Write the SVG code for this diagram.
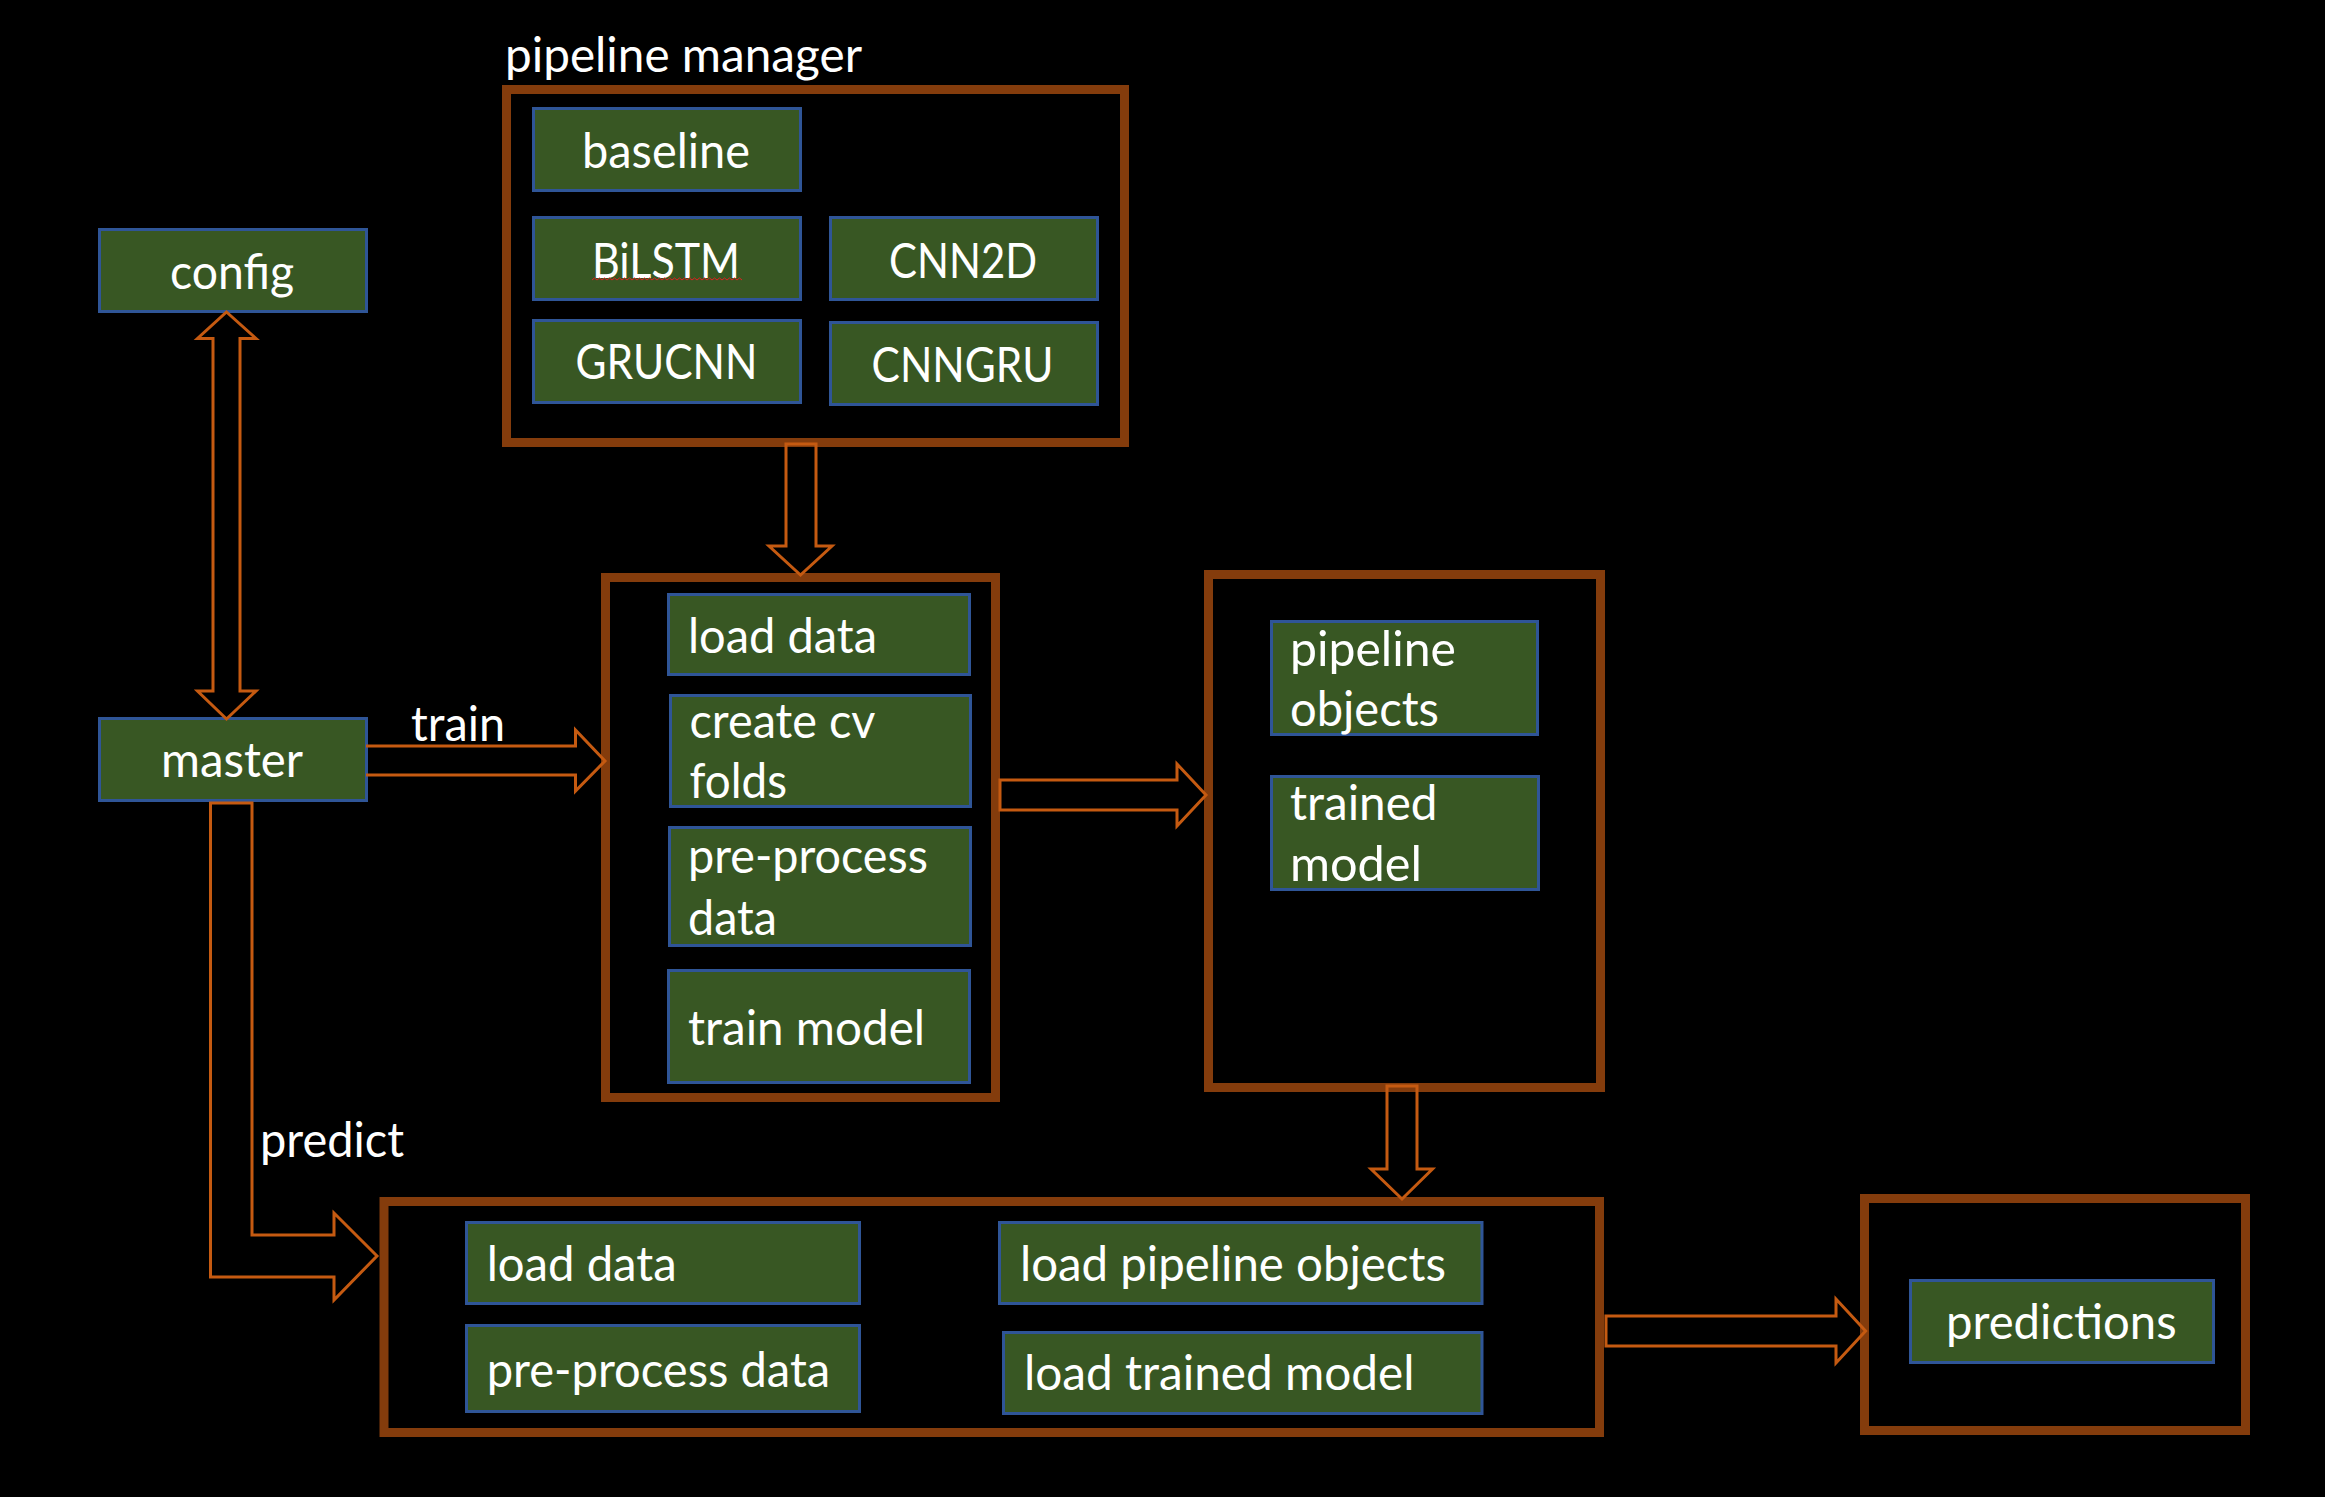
<svg xmlns="http://www.w3.org/2000/svg" width="2325" height="1497" viewBox="0 0 2325 1497">
<style>
.bg{fill:#000}
.cont{fill:none;stroke:#843C0C;stroke-width:9}
.box{fill:#385723;stroke:#2F5597;stroke-width:3}
.arr{fill:none;stroke:#C55A11;stroke-width:3;stroke-linejoin:miter}
text{font-family:Lato,"Open Sans","Liberation Sans",sans-serif;font-size:48px;fill:#fff}
</style>
<rect class="bg" x="0" y="0" width="2325" height="1497"/>

<g id="pipeline-manager">
<text x="505" y="72" textLength="357" lengthAdjust="spacingAndGlyphs">pipeline manager</text>
<rect class="cont" x="506.5" y="89.5" width="618" height="353"/>
</g>
<g id="baseline"><rect class="box" x="533.5" y="108.5" width="267" height="82"/><text x="582" y="168" textLength="168" lengthAdjust="spacingAndGlyphs">baseline</text></g>
<g id="bilstm"><rect class="box" x="533.5" y="217.5" width="267" height="82"/><text x="592" y="278" textLength="148" lengthAdjust="spacingAndGlyphs">BiLSTM</text>
<path d="M592,280 l2.5,-2 l2.5,2 l2.5,-2 l2.5,2 l2.5,-2 l2.5,2 l2.5,-2 l2.5,2 l2.5,-2 l2.5,2 l2.5,-2 l2.5,2 l2.5,-2 l2.5,2 l2.5,-2 l2.5,2 l2.5,-2 l2.5,2 l2.5,-2 l2.5,2 l2.5,-2 l2.5,2 l2.5,-2 l2.5,2 l2.5,-2 l2.5,2 l2.5,-2 l2.5,2 l2.5,-2 l2.5,2 l2.5,-2 l2.5,2 l2.5,-2 l2.5,2 l2.5,-2 l2.5,2 l2.5,-2 l2.5,2 l2.5,-2 l2.5,2 l2.5,-2 l2.5,2 l2.5,-2 l2.5,2 l2.5,-2 l2.5,2 l2.5,-2 l2.5,2 l2.5,-2 l2.5,2 l2.5,-2 l2.5,2 l2.5,-2 l2.5,2 l2.5,-2 l2.5,2 l2.5,-2 l2.5,2 l2.5,-2 l2.5,2" fill="none" stroke="#E02020" stroke-width="1"/></g>
<g id="cnn2d"><rect class="box" x="830.5" y="217.5" width="267" height="82"/><text x="889" y="278" textLength="148" lengthAdjust="spacingAndGlyphs">CNN2D</text></g>
<g id="grucnn"><rect class="box" x="533.5" y="320.5" width="267" height="82"/><text x="575.5" y="379" textLength="182" lengthAdjust="spacingAndGlyphs">GRUCNN</text></g>
<g id="cnngru"><rect class="box" x="830.5" y="322.5" width="267" height="82"/><text x="871.5" y="382" textLength="182" lengthAdjust="spacingAndGlyphs">CNNGRU</text></g>

<g id="config"><rect class="box" x="99.5" y="229.5" width="267" height="82"/><text x="170" y="289" textLength="124" lengthAdjust="spacingAndGlyphs">config</text></g>
<g id="master"><rect class="box" x="99.5" y="718.5" width="267" height="82"/><text x="161" y="777" textLength="142" lengthAdjust="spacingAndGlyphs">master</text></g>

<g id="train-stage">
<rect class="cont" x="605.5" y="577.5" width="390" height="520"/>
<rect class="box" x="668.5" y="594.5" width="301" height="80"/><text x="688" y="653" textLength="189" lengthAdjust="spacingAndGlyphs">load data</text>
<rect class="box" x="670.5" y="695.5" width="300" height="111"/><text x="689.5" y="738" textLength="186" lengthAdjust="spacingAndGlyphs">create cv</text><text x="689.5" y="798" textLength="97.5" lengthAdjust="spacingAndGlyphs">folds</text>
<rect class="box" x="669.5" y="827.5" width="301" height="118"/><text x="688" y="873" textLength="240" lengthAdjust="spacingAndGlyphs">pre-process</text><text x="688" y="934.5" textLength="89" lengthAdjust="spacingAndGlyphs">data</text>
<rect class="box" x="668.5" y="970.5" width="301" height="112"/><text x="688" y="1045" textLength="237" lengthAdjust="spacingAndGlyphs">train model</text>
</g>

<g id="artifacts">
<rect class="cont" x="1208.5" y="574.5" width="392" height="513"/>
<rect class="box" x="1271.5" y="621.5" width="266" height="113"/><text x="1290" y="665.5" textLength="166" lengthAdjust="spacingAndGlyphs">pipeline</text><text x="1290" y="726" textLength="149" lengthAdjust="spacingAndGlyphs">objects</text>
<rect class="box" x="1271.5" y="776.5" width="267" height="113"/><text x="1290" y="820" textLength="147.5" lengthAdjust="spacingAndGlyphs">trained</text><text x="1290" y="880.5" textLength="132" lengthAdjust="spacingAndGlyphs">model</text>
</g>

<g id="predict-stage">
<rect class="cont" x="384" y="1201.5" width="1215.5" height="231"/>
<rect class="box" x="466.5" y="1222.5" width="393" height="81"/><text x="486.7" y="1281" textLength="190" lengthAdjust="spacingAndGlyphs">load data</text>
<rect class="box" x="466.5" y="1325.5" width="393" height="86"/><text x="486.7" y="1387" textLength="343.5" lengthAdjust="spacingAndGlyphs">pre-process data</text>
<rect class="box" x="999.5" y="1222.5" width="482.5" height="81"/><text x="1020" y="1281" textLength="426" lengthAdjust="spacingAndGlyphs">load pipeline objects</text>
<rect class="box" x="1003.5" y="1332.5" width="478.5" height="81"/><text x="1024" y="1390" textLength="390.5" lengthAdjust="spacingAndGlyphs">load trained model</text>
</g>

<g id="predictions-out">
<rect class="cont" x="1864.5" y="1198.5" width="381" height="232"/>
<rect class="box" x="1910.5" y="1280.5" width="303" height="82"/><text x="1946" y="1338.7" textLength="230.6" lengthAdjust="spacingAndGlyphs">predictions</text>
</g>

<g id="connectors">
<path class="arr" d="M226.5,312 L256,338.5 L240,338.5 L240,691 L256,691 L226.5,719 L197.5,691 L213,691 L213,338.5 L197.5,338.5 Z"/>
<path class="arr" d="M786,444 L816,444 L816,546 L832,546 L800.5,575 L769,546 L786,546 Z"/>
<path class="arr" d="M366,746 L575.5,746 L575.5,730 L605,761 L575.5,791 L575.5,775 L366,775"/>
<path class="arr" d="M1000,780 L1177,780 L1177,764 L1206,795 L1177,826 L1177,810 L1000,810 Z"/>
<path class="arr" d="M210.5,803 L252,803 L252,1235 L334,1235 L334,1213 L377,1256 L334,1300 L334,1277 L210.5,1277 Z"/>
<path class="arr" d="M1387,1086 L1417,1086 L1417,1169 L1432.5,1169 L1402,1199 L1371,1169 L1387,1169 Z"/>
<path class="arr" d="M1606,1316 L1836,1316 L1836,1299 L1865.6,1331 L1836,1363 L1836,1346 L1606,1346 Z"/>
<text x="411" y="741" textLength="94" lengthAdjust="spacingAndGlyphs">train</text>
<text x="260" y="1157" textLength="144" lengthAdjust="spacingAndGlyphs">predict</text>
</g>
</svg>
